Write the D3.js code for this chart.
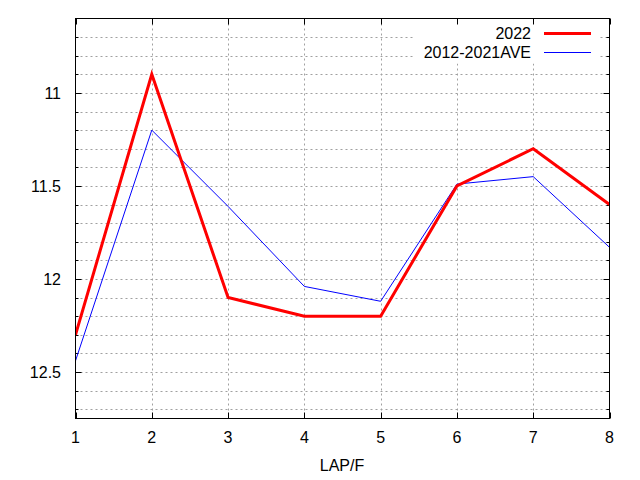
<!DOCTYPE html>
<html lang="en">
<head>
<meta charset="UTF-8">
<title>LAP/F</title>
<style>
  body { margin: 0; background: #fff; }
  svg text { font-family: 'Liberation Sans', Arial, sans-serif; font-size: 16px; fill: #000; }
</style>
</head>
<body>
<div id="chart"></div>
<script src="https://cdn.jsdelivr.net/npm/d3@7"></script>
<script>
// lap number
var laps = [1, 2, 3, 4, 5, 6, 7, 8];
// lap times
var y2022 = [12.3, 10.9, 12.1, 12.2, 12.2, 11.5, 11.3, 11.6];
var yAve  = [12.44, 11.2, 11.61, 12.04, 12.12, 11.49, 11.45, 11.83];
var seriesNames = ['2022', '2012-2021AVE'];
var yMajorTicks = [11, 11.5, 12, 12.5];
var yMinorTicks = [10.7, 10.8, 10.9, 11.1, 11.2, 11.3, 11.4, 11.6, 11.7, 11.8, 11.9, 12.1, 12.2, 12.3, 12.4, 12.6, 12.7];

var W = 640, H = 480;
// plot box (note: window.top is reserved, so use other names)
var pL = 75.5, pR = 609.5, pT = 18.5, pB = 418.5;

var svg = d3.select('#chart').append('svg').attr('width', W).attr('height', H);

var x = d3.scaleLinear().domain([1, 8]).range([pL, pR]);
var y = d3.scaleLinear().domain([10.6, 12.75]).range([pT, pB]);

var gridColor = '#a0a0a0';
var allY = yMajorTicks.concat(yMinorTicks);

function ypos(d) { return Math.round(y(d)) + 0.5; }
function xpos(d) { return Math.round(x(d)) + 0.5; }

// grid
var grid = svg.append('g').attr('stroke', gridColor).attr('stroke-width', 1).attr('stroke-dasharray', '2,3');
grid.selectAll('line.h').data(allY).enter().append('line')
    .attr('x1', pL).attr('x2', pR).attr('y1', ypos).attr('y2', ypos);
grid.selectAll('line.v').data(laps.slice(1, -1)).enter().append('line')
    .attr('y1', pT).attr('y2', pB).attr('x1', xpos).attr('x2', xpos);

// legend background hides grid
svg.append('rect').attr('x', 413).attr('y', pT + 1).attr('width', 185).attr('height', 44).attr('fill', '#fff');

// ticks (inward, mirrored)
var ticks = svg.append('g').attr('stroke', '#000').attr('stroke-width', 1);
ticks.selectAll('line.ml').data(yMajorTicks).enter().append('line')
    .attr('x1', pL).attr('x2', pL + 6).attr('y1', ypos).attr('y2', ypos);
ticks.selectAll('line.mr').data(yMajorTicks).enter().append('line')
    .attr('x1', pR).attr('x2', pR - 6).attr('y1', ypos).attr('y2', ypos);
ticks.selectAll('line.nl').data(yMinorTicks).enter().append('line')
    .attr('x1', pL).attr('x2', pL + 3).attr('y1', ypos).attr('y2', ypos);
ticks.selectAll('line.nr').data(yMinorTicks).enter().append('line')
    .attr('x1', pR).attr('x2', pR - 3).attr('y1', ypos).attr('y2', ypos);
ticks.selectAll('line.xb').data(laps).enter().append('line')
    .attr('x1', xpos).attr('x2', xpos).attr('y1', pB).attr('y2', pB - 6);
ticks.selectAll('line.xt').data(laps).enter().append('line')
    .attr('x1', xpos).attr('x2', xpos).attr('y1', pT).attr('y2', pT + 6);

// lines
var line = d3.line().x(function(d, i) { return x(laps[i]); }).y(function(d) { return y(d); });
svg.append('clipPath').attr('id', 'clip').append('rect')
    .attr('x', pL).attr('y', pT).attr('width', pR - pL).attr('height', pB - pT);
svg.append('path').datum(yAve).attr('d', line).attr('fill', 'none')
    .attr('stroke', '#0000ff').attr('stroke-width', 1).attr('clip-path', 'url(#clip)');
svg.append('path').datum(y2022).attr('d', line).attr('fill', 'none')
    .attr('stroke', '#ff0000').attr('stroke-width', 3).attr('clip-path', 'url(#clip)');

// border
svg.append('rect').attr('x', pL).attr('y', pT).attr('width', pR - pL).attr('height', pB - pT)
    .attr('fill', 'none').attr('stroke', '#000').attr('stroke-width', 1);

// tick labels
svg.selectAll('text.yl').data(yMajorTicks).enter().append('text')
    .attr('x', 61).attr('y', function(d) { return y(d) + 6; })
    .attr('text-anchor', 'end').text(function(d) { return d; });
svg.selectAll('text.xl').data(laps).enter().append('text')
    .attr('x', function(d) { return x(d); }).attr('y', 443)
    .attr('text-anchor', 'middle').text(function(d) { return d; });
svg.append('text').attr('x', 342).attr('y', 471).attr('text-anchor', 'middle').text('LAP/F');

// legend
var legColors = ['#ff0000', '#0000ff'];
var legWidths = [3, 1];
var leg = svg.selectAll('g.leg').data(seriesNames).enter().append('g')
    .attr('transform', function(d, i) { return 'translate(0,' + (33 + i * 19) + ')'; });
leg.append('text').attr('x', 531).attr('y', 6).attr('text-anchor', 'end').text(function(d) { return d; });
leg.append('line').attr('x1', 544).attr('x2', 591).attr('y1', 0.5).attr('y2', 0.5)
    .attr('stroke', function(d, i) { return legColors[i]; })
    .attr('stroke-width', function(d, i) { return legWidths[i]; });
</script>
</body>
</html>
